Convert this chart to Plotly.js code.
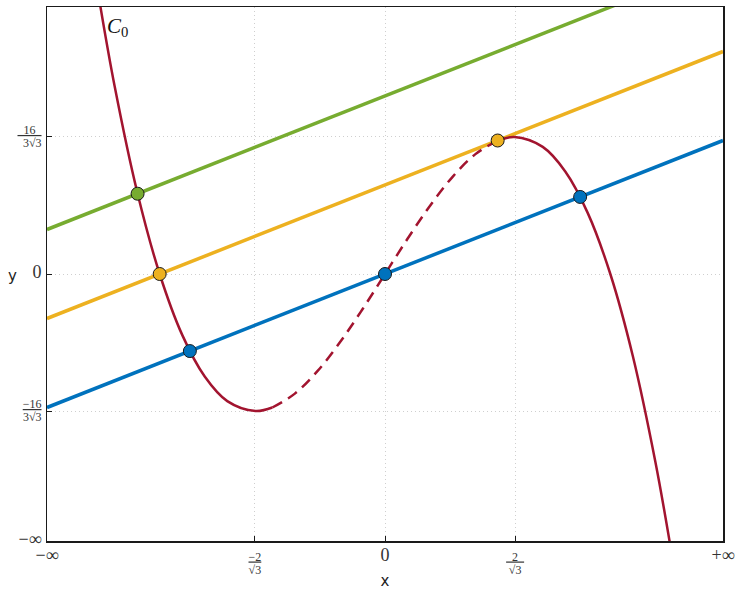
<!DOCTYPE html>
<html>
<head>
<meta charset="utf-8">
<script src="https://cdn.plot.ly/plotly-3.0.1.min.js"></script>
<style>
  body { margin: 0; background: #fff; }
  #graph { width: 741px; height: 590px; }
</style>
</head>
<body>
<div id="graph"></div>
<script>
// curve C0 (three pieces: solid, dashed, solid)
const curveLeftX = [-2.53, -2.4, -2.2, -2.0, -1.8, -1.6, -1.4, -1.15, -1.0];
const curveLeftY = [6.07, 4.224, 1.848, 0, -1.368, -2.304, -2.856, -3.079, -3.0];
const curveMidX = [-1.0, -0.8, -0.6, -0.4, -0.2, 0, 0.2, 0.4, 0.6, 0.8, 1.0];
const curveMidY = [-3.0, -2.688, -2.184, -1.536, -0.792, 0, 0.792, 1.536, 2.184, 2.688, 3.0];
const curveRightX = [1.0, 1.15, 1.4, 1.6, 1.8, 2.0, 2.2, 2.4, 2.53];
const curveRightY = [3.0, 3.079, 2.856, 2.304, 1.368, 0, -1.848, -4.224, -6.07];

// straight lines
const lineX = [-3, 3];
const blueY = [-3, 3];
const orangeY = [-1, 5];
const greenY = [1, 7];

// intersection points
const blueDotsX = [-1.732, 0, 1.732];
const blueDotsY = [-1.732, 0, 1.732];
const orangeDotsX = [-2, 1];
const orangeDotsY = [0, 3];
const greenDotsX = [-2.196];
const greenDotsY = [1.804];

// ticks
const big = s => '<span style="font-size:18px">' + s + '</span>';
const frac = (n, d) => '<span style="font-size:12px;text-decoration:underline">' + n + '</span><br><span style="font-size:12px">' + d + '</span>';
const xTickVals = [-3, -1.1547, 0, 1.1547, 3];
const xTickText = [big('−∞'), frac('−2', '√3'), big('0'), frac('&#8199;2&#8199;', '√3'), big('+∞')];
const yTickVals = [-6, -3.0792, 0, 3.0792, 6];
const yTickText = [big('−∞'), frac('−16', '3√3'), big('0'), frac('&#8199;16&#8199;', '3√3'), big('+∞')];

const red = '#A2142F';
const blue = '#0072BD';
const orange = '#EDB120';
const green = '#77AC30';

function dots(x, y, color) {
    return {
        x: x, y: y, mode: 'markers', showlegend: false,
        marker: { color: color, size: 13, line: { color: '#1a1a1a', width: 1 } }
    };
}

const traces = [
    { x: lineX, y: greenY, mode: 'lines', line: { color: green, width: 3.5 }, showlegend: false },
    { x: lineX, y: orangeY, mode: 'lines', line: { color: orange, width: 3.5 }, showlegend: false },
    { x: lineX, y: blueY, mode: 'lines', line: { color: blue, width: 3.5 }, showlegend: false },
    { x: curveLeftX, y: curveLeftY, mode: 'lines', line: { color: red, width: 2.5, shape: 'spline' }, showlegend: false },
    { x: curveMidX, y: curveMidY, mode: 'lines', line: { color: red, width: 2.5, shape: 'spline', dash: '11px,7px' }, showlegend: false },
    { x: curveRightX, y: curveRightY, mode: 'lines', line: { color: red, width: 2.5, shape: 'spline' }, showlegend: false },
    dots(greenDotsX, greenDotsY, green),
    dots(orangeDotsX, orangeDotsY, orange),
    dots(blueDotsX, blueDotsY, blue)
];

const axisStyle = {
    showline: true, mirror: true, linecolor: '#1a1a1a', linewidth: 1.5,
    showgrid: true, gridcolor: '#cfcfcf', griddash: '1px,3px', gridwidth: 1,
    zeroline: false, ticks: 'inside', ticklen: 5, tickcolor: '#1a1a1a',
    tickfont: { family: 'Liberation Serif, serif', size: 10, color: '#333' }
};

const layout = {
    width: 741, height: 590,
    margin: { l: 47, r: 18, t: 7, b: 49 },
    paper_bgcolor: '#fff', plot_bgcolor: '#fff',
    xaxis: Object.assign({}, axisStyle, {
        range: [-3, 3], tickmode: 'array', tickvals: xTickVals, ticktext: xTickText,
        ticklabelstandoff: 6,
        title: { text: 'x', font: { family: 'DejaVu Sans, sans-serif', size: 15, color: '#222' }, standoff: 4 }
    }),
    yaxis: Object.assign({}, axisStyle, {
        range: [-6, 6], tickmode: 'array', tickvals: yTickVals, ticktext: yTickText,
        ticklabelstandoff: 2
    }),
    annotations: [
        { x: 0, y: 0.497, xref: 'paper', yref: 'paper', xshift: -41, text: 'y', showarrow: false,
          font: { family: 'DejaVu Sans, sans-serif', size: 15, color: '#222' } },
        { x: -2.37, y: 5.55, text: '<i>C</i><sub>0</sub>', showarrow: false,
          font: { family: 'Liberation Serif, serif', size: 21, color: '#111' } }
    ]
};

Plotly.newPlot('graph', traces, layout, { displayModeBar: false, staticPlot: true });
</script>
</body>
</html>
